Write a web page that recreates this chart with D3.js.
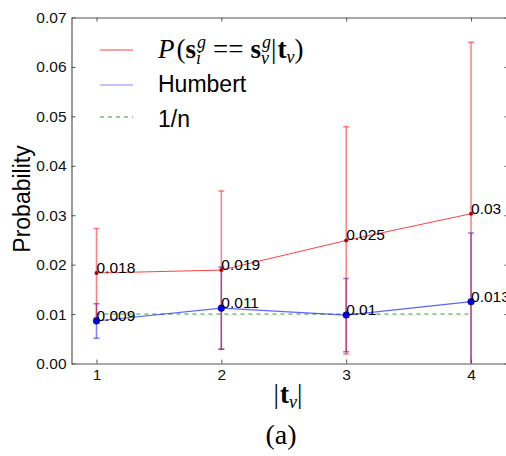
<!DOCTYPE html>
<html>
<head>
<meta charset="utf-8">
<script src="https://cdn.jsdelivr.net/npm/d3@7"></script>
<style>
body { margin: 0; background: #fff; }
svg { display: block; }
</style>
</head>
<body>
<script>
var categories = [1, 2, 3, 4];
var matchMean = [0.0183, 0.0189, 0.0249, 0.0303];
var matchErr = [0.0090, 0.0160, 0.0230, 0.0347];
var matchLabels = ['0.018', '0.019', '0.025', '0.03'];
var humbertMean = [0.0086, 0.0112, 0.0098, 0.0125];
var humbertErr = [0.0035, 0.0083, 0.0074, 0.0139];
var humbertLabels = ['0.009', '0.011', '0.01', '0.013'];
var baseline = 0.01;
var yTicks = [0, 0.01, 0.02, 0.03, 0.04, 0.05, 0.06, 0.07];
var xTicks = [1, 2, 3, 4];

var svgWidth = 506, svgHeight = 456;
var plotLeft = 71.5, plotTop = 17.5, plotRight = 508.5, plotBottom = 363.5;
var sans = 'Liberation Sans, Arial, Helvetica, sans-serif';
var serif = 'Liberation Serif, Times New Roman, serif';

var svg = d3.select('body').append('svg').attr('width', svgWidth).attr('height', svgHeight);

var x = d3.scaleLinear().domain([0.8, 4.3]).range([plotLeft, plotRight]);
var y = d3.scaleLinear().domain([0, 0.07]).range([plotBottom, plotTop]);

svg.append('clipPath').attr('id', 'plot')
    .append('rect').attr('x', plotLeft).attr('y', plotTop)
    .attr('width', plotRight - plotLeft).attr('height', plotBottom - plotTop);

var plot = svg.append('g').attr('clip-path', 'url(#plot)');

// 1/n baseline
plot.append('line')
    .attr('x1', x(categories[0])).attr('x2', x(categories[categories.length - 1]))
    .attr('y1', y(baseline)).attr('y2', y(baseline))
    .attr('stroke', '#2ca02c').attr('stroke-width', 1).attr('stroke-dasharray', '4,4');

function errorBars(mean, err, color) {
    var g = plot.append('g').attr('stroke', color).attr('stroke-opacity', 0.5).attr('stroke-width', 1.5);
    categories.forEach(function (c, i) {
        var lo = mean[i] - err[i], hi = mean[i] + err[i];
        g.append('line').attr('x1', x(c)).attr('x2', x(c)).attr('y1', y(lo)).attr('y2', y(hi));
        [lo, hi].forEach(function (v) {
            g.append('line').attr('x1', x(c) - 3).attr('x2', x(c) + 3).attr('y1', y(v)).attr('y2', y(v));
        });
    });
}
errorBars(humbertMean, humbertErr, '#0000ff');
errorBars(matchMean, matchErr, '#ff0000');

var line = d3.line().x(function (d, i) { return x(categories[i]); }).y(function (d) { return y(d); });

plot.append('path').datum(matchMean).attr('d', line)
    .attr('fill', 'none').attr('stroke', '#ff2020').attr('stroke-opacity', 0.85).attr('stroke-width', 1);
plot.append('path').datum(humbertMean).attr('d', line)
    .attr('fill', 'none').attr('stroke', '#2020ff').attr('stroke-opacity', 0.7).attr('stroke-width', 1.2);

plot.selectAll('circle.m').data(matchMean).enter().append('circle')
    .attr('cx', function (d, i) { return x(categories[i]); }).attr('cy', function (d) { return y(d); })
    .attr('r', 2).attr('fill', '#b00000');
plot.selectAll('circle.h').data(humbertMean).enter().append('circle')
    .attr('cx', function (d, i) { return x(categories[i]); }).attr('cy', function (d) { return y(d); })
    .attr('r', 3.3).attr('fill', '#0000ee').attr('stroke', '#000080').attr('stroke-width', 0.6);

// value labels
function valueLabels(mean, labels) {
    svg.append('g').selectAll('text').data(mean).enter().append('text')
        .attr('x', function (d, i) { return x(categories[i]); })
        .attr('y', function (d) { return y(d); })
        .attr('font-family', sans).attr('font-size', 15.5).attr('fill', '#000')
        .text(function (d, i) { return labels[i]; });
}
valueLabels(matchMean, matchLabels);
valueLabels(humbertMean, humbertLabels);

// axes with inward ticks
var axisColor = '#555';
var gL = svg.append('g').attr('transform', 'translate(' + plotLeft + ',0)')
    .call(d3.axisLeft(y).tickValues(yTicks).tickFormat(d3.format('.2f')).tickSizeInner(-4).tickSizeOuter(0).tickPadding(5));
var gB = svg.append('g').attr('transform', 'translate(0,' + plotBottom + ')')
    .call(d3.axisBottom(x).tickValues(xTicks).tickFormat(d3.format('d')).tickSizeInner(-4).tickSizeOuter(0).tickPadding(5));
var gT = svg.append('g').attr('transform', 'translate(0,' + plotTop + ')')
    .call(d3.axisTop(x).tickValues(xTicks).tickFormat('').tickSizeInner(-4).tickSizeOuter(0));
var gR = svg.append('g').attr('transform', 'translate(' + plotRight + ',0)')
    .call(d3.axisRight(y).tickValues(yTicks).tickFormat('').tickSizeInner(-4).tickSizeOuter(0));
[gL, gB, gT, gR].forEach(function (g) {
    g.attr('font-size', 15.5).attr('font-family', sans);
    g.select('.domain').attr('stroke', axisColor).attr('stroke-width', 1.2);
    g.selectAll('.tick line').attr('stroke', axisColor);
    g.selectAll('.tick text').attr('fill', '#111');
});

// y label
svg.append('text')
    .attr('transform', 'translate(30,199) rotate(-90)')
    .attr('text-anchor', 'middle')
    .attr('font-family', sans).attr('font-size', 23)
    .text('Probability');

// math-like text laid out piece by piece
function mathText(x0, y0, pieces, anchorMiddle) {
    var g = svg.append('g');
    var cx = x0;
    pieces.forEach(function (p) {
        var groupW = 0;
        (Array.isArray(p) ? p : [p]).forEach(function (q) {
            var t = g.append('text')
                .attr('x', cx + (q.lpad || 0)).attr('y', y0 + (q.dy || 0))
                .attr('font-family', serif).attr('font-size', q.size || 27)
                .attr('font-style', q.it ? 'italic' : 'normal')
                .attr('font-weight', q.bold ? 'bold' : 'normal')
                .text(q.t);
            groupW = Math.max(groupW, t.node().getComputedTextLength() + (q.pad || 0) + (q.lpad || 0));
        });
        cx += groupW;
    });
    if (anchorMiddle) {
        g.attr('transform', 'translate(' + (-(cx - x0) / 2) + ',0)');
    }
    return g;
}

// legend
var legendX1 = 100, legendX2 = 133;
var legendRows = [
    { y: 50, color: '#ff2020', opacity: 0.85, dash: null },
    { y: 85, color: '#2020ff', opacity: 0.55, dash: null },
    { y: 117, color: '#2ca02c', opacity: 1, dash: '4,4' }
];
legendRows.forEach(function (r) {
    svg.append('line').attr('x1', legendX1).attr('x2', legendX2).attr('y1', r.y).attr('y2', r.y)
        .attr('stroke', r.color).attr('stroke-opacity', r.opacity).attr('stroke-width', 1.2)
        .attr('stroke-dasharray', r.dash);
});
mathText(158, 58, [
    { t: 'P', it: true, pad: 2 }, { t: '(' },
    { t: 's', bold: true },
    [{ t: 'g', it: true, size: 18, dy: -10, lpad: 1 }, { t: 'i', it: true, size: 18, dy: 6 }],
    { t: '==', lpad: 7, pad: 7 },
    { t: 's', bold: true },
    [{ t: 'g', it: true, size: 18, dy: -10, lpad: 1 }, { t: 'v', it: true, size: 18, dy: 6 }],
    { t: '|', pad: 1 }, { t: 't', bold: true },
    { t: 'v', it: true, size: 18, dy: 5 }, { t: ')' }
]);
svg.append('text').attr('x', 158).attr('y', 92).attr('font-family', sans).attr('font-size', 23).text('Humbert');
svg.append('text').attr('x', 158).attr('y', 127).attr('font-family', sans).attr('font-size', 23).text('1/n');

// x label and caption
mathText(288, 403, [
    { t: '|', pad: 1 }, { t: 't', bold: true }, { t: 'v', it: true, size: 18, dy: 5 }, { t: '|' }
], true);
svg.append('text').attr('x', 281).attr('y', 444).attr('text-anchor', 'middle')
    .attr('font-family', serif).attr('font-size', 28).text('(a)');
</script>
</body>
</html>
